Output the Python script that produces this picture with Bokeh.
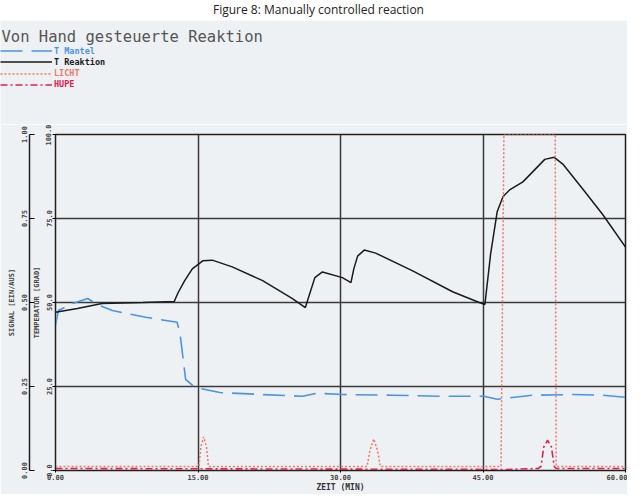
from bokeh.plotting import figure
from bokeh.models import (Range1d, LinearAxis, FixedTicker, Legend, LegendItem, Label,
                          Div, PrintfTickFormatter)
from bokeh.embed import file_html
from bokeh.resources import INLINE

# ---- data (time in minutes) ----
t_reaktion = [0, 2.3, 4.9, 9.2, 12.5, 12.9, 13.6, 14.4, 15.5, 16.5, 18.6, 21.8, 24.9, 26.3,
              26.7, 27.3, 28.1, 30.2, 31.1, 31.4, 31.8, 32.5, 33.7, 37.6, 41.8, 44.6, 45.2,
              45.8, 46.5, 47.1, 47.8, 49.2, 50.2, 51.5, 52.5, 53.4, 55.5, 57.6, 60.0]
T_reaktion = [47.1, 48.2, 49.7, 50.0, 50.3, 52.9, 56.5, 60.0, 62.4, 62.6, 60.6, 56.5, 51.2, 48.5,
              52.1, 57.4, 59.1, 57.4, 55.9, 60.0, 63.8, 65.6, 64.7, 59.4, 53.2, 50.0, 49.4,
              64.4, 77.1, 81.5, 83.5, 85.9, 88.8, 92.6, 93.2, 91.2, 83.8, 76.2, 66.5]

t_mantel = [0, 0.3, 1.8, 3.4, 4.4, 6.0, 9.5, 12.8, 13.1, 13.7, 14.7, 17.3, 21.8, 26.0, 27.5,
            30.2, 35.5, 40.7, 45.1, 46.5, 50.2, 54.4, 57.6, 60]
T_mantel = [43.2, 47.6, 49.7, 51.2, 49.4, 47.6, 45.6, 44.1, 40.9, 27.1, 24.7, 23.2, 22.6, 22.1,
            23.0, 22.6, 22.4, 22.1, 22.1, 21.2, 22.4, 22.6, 22.4, 21.8]

t_licht = [0, 15.1, 15.3, 15.6, 15.9, 16.1, 32.8, 33.1, 33.5, 33.9, 34.2, 46.9, 47.2, 52.6,
           52.7, 60]
v_licht = [0.012, 0.012, 0.07, 0.10, 0.07, 0.012, 0.012, 0.06, 0.094, 0.06, 0.012, 0.012, 1.0,
           1.0, 0.012, 0.012]

t_hupe = [0, 47.5, 50.8, 51.1, 51.4, 51.8, 52.2, 52.5, 52.7, 60]
v_hupe = [0.006, 0.003, 0.006, 0.012, 0.07, 0.09, 0.07, 0.012, 0.006, 0.006]

series_names = ["T Mantel", "T Reaktion", "LICHT", "HUPE"]
x_ticks = [0, 15, 30, 45, 60]
temp_ticks = [0, 25, 50, 75, 100]
sig_ticks = [0, 0.25, 0.5, 0.75, 1.0]

BG = "#eef1f3"
C_MANTEL = "#4a94e6"
C_REAKT = "#1a1a1a"
C_LICHT = "#f07868"
C_HUPE = "#e2204c"
MONO = "DejaVu Sans Mono"

W = 627
HEAD_H = 104
FW, FH = 570, 336

styles = {
    "T Mantel": dict(line_color=C_MANTEL, line_width=1.6, line_dash="22 9"),
    "T Reaktion": dict(line_color=C_REAKT, line_width=1.5),
    "LICHT": dict(line_color=C_LICHT, line_width=1.5, line_dash="2 2"),
    "HUPE": dict(line_color=C_HUPE, line_width=1.6, line_dash="7 3 2 3"),
}
series_data = {
    "T Mantel": (t_mantel, T_mantel),
    "T Reaktion": (t_reaktion, T_reaktion),
    "LICHT": (t_licht, v_licht),
    "HUPE": (t_hupe, v_hupe),
}

# ---------------- main chart ----------------
p = figure(width=W, frame_width=FW, frame_height=FH,
           x_range=Range1d(0, 60), y_range=Range1d(0, 100),
           output_backend="svg", toolbar_location=None,
           min_border_left=55, min_border_right=2, min_border_top=10, min_border_bottom=22)
p.extra_y_ranges = {"sig": Range1d(0, 1)}
p.background_fill_color = BG
p.border_fill_color = BG
p.outline_line_color = "#202020"
p.outline_line_width = 1.5

p.xgrid.ticker = FixedTicker(ticks=x_ticks)
p.ygrid.ticker = FixedTicker(ticks=temp_ticks)
for g in (p.xgrid, p.ygrid):
    g.grid_line_color = "#3a3a3a"
    g.grid_line_width = 1.5

xa = p.xaxis[0]
xa.ticker = FixedTicker(ticks=x_ticks)
xa.formatter = PrintfTickFormatter(format="%.2f")
xa.axis_label = "ZEIT (MIN)"
xa.major_tick_out = 2
xa.major_tick_in = 0
xa.minor_tick_line_color = None
xa.major_label_standoff = 1
xa.axis_label_standoff = 0
xa.major_label_text_font = MONO
xa.major_label_text_font_style = "bold"
xa.major_label_text_font_size = "7px"
xa.axis_label_text_font = MONO
xa.axis_label_text_font_style = "bold"
xa.axis_label_text_font_size = "8px"
xa.axis_label_text_color = "#333333"
xa.axis_line_color = "#202020"

ya = p.yaxis[0]
ya.ticker = FixedTicker(ticks=temp_ticks)
ya.formatter = PrintfTickFormatter(format="%.1f")
ya.axis_label = "TEMPERATUR [GRAD]"
ya.major_label_orientation = "vertical"
ya.major_tick_out = 3
ya.major_tick_in = 0
ya.minor_tick_line_color = None
ya.major_label_standoff = 1
ya.axis_label_standoff = 2
ya.major_label_text_font = MONO
ya.major_label_text_font_style = "bold"
ya.major_label_text_font_size = "7px"
ya.axis_label_text_font = MONO
ya.axis_label_text_font_style = "bold"
ya.axis_label_text_font_size = "7px"
ya.axis_line_color = "#202020"

sa = LinearAxis(y_range_name="sig", ticker=FixedTicker(ticks=sig_ticks),
                formatter=PrintfTickFormatter(format="%.2f"),
                axis_label="SIGNAL [EIN/AUS]")
sa.major_label_orientation = "vertical"
sa.major_tick_out = 0
sa.major_tick_in = 5
sa.minor_tick_line_color = None
sa.major_label_standoff = 3
sa.axis_label_standoff = 2
sa.major_label_text_font = MONO
sa.major_label_text_font_style = "bold"
sa.major_label_text_font_size = "7px"
sa.axis_label_text_font = MONO
sa.axis_label_text_font_style = "bold"
sa.axis_label_text_font_size = "7px"
sa.axis_line_color = "#202020"
sa.axis_line_width = 1.5
p.add_layout(sa, "left")

p.line(t_mantel, T_mantel, **styles["T Mantel"])
p.line(t_reaktion, T_reaktion, **styles["T Reaktion"])
p.line(t_licht, v_licht, y_range_name="sig", **styles["LICHT"])
p.line(t_hupe, v_hupe, y_range_name="sig", **styles["HUPE"])

# ---------------- header: title + legend ----------------
h = figure(width=W, height=HEAD_H, x_range=Range1d(0, W), y_range=Range1d(0, HEAD_H),
           output_backend="svg", toolbar_location=None,
           x_axis_location=None, y_axis_location=None,
           min_border=0, min_border_left=0, min_border_right=0,
           min_border_top=0, min_border_bottom=0)
h.background_fill_color = BG
h.border_fill_color = BG
h.outline_line_color = None
h.grid.visible = False
# legend proxies: same series, mapped to a range far outside the header's view
h.extra_x_ranges = {"off": Range1d(1000, 2000)}

h.add_layout(Label(x=1, y=HEAD_H - 16, text="Von Hand gesteuerte Reaktion",
                   text_font=MONO, text_font_size="15.5px", text_color="#555555",
                   text_baseline="middle"))

label_colors = {"T Mantel": C_MANTEL, "T Reaktion": C_REAKT, "LICHT": C_LICHT, "HUPE": C_HUPE}
row_y = [HEAD_H - 36, HEAD_H - 47, HEAD_H - 58.5, HEAD_H - 69.5]
for name, yy in zip(series_names, row_y):
    xs, ys = series_data[name]
    proxy = h.line(xs, ys, x_range_name="off", **styles[name])
    lg = Legend(items=[LegendItem(label=name, renderers=[proxy])], location=(0, yy),
                orientation="vertical", padding=0, margin=0, spacing=0,
                glyph_width=52, glyph_height=11, label_height=11, label_standoff=2,
                label_text_font=MONO, label_text_font_style="bold",
                label_text_font_size="8.5px", label_text_color=label_colors[name],
                background_fill_alpha=0, border_line_alpha=0)
    h.add_layout(lg, "center")

cap = Div(text="Figure 8: Manually controlled reaction", width=W, height=10,
          styles={"font-size": "12px", "line-height": "10px", "text-align": "center",
                  "color": "#222", "font-family": "Open Sans", "width": "627px"})

open("out.html", "w").write(file_html([cap, h, p], INLINE))
